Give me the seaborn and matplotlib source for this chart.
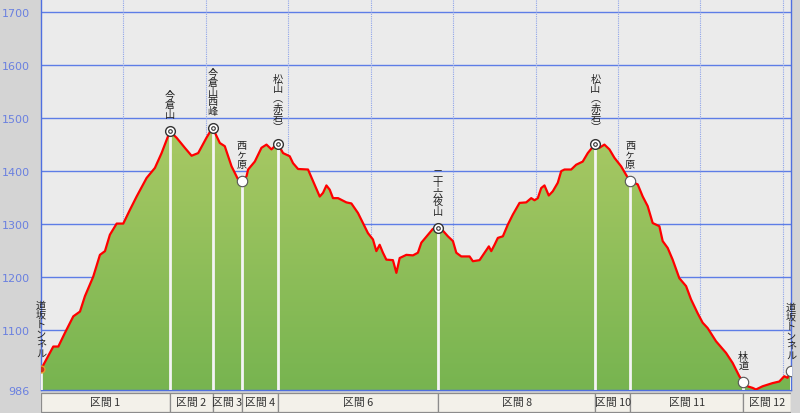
import numpy as np
import matplotlib
matplotlib.use("Agg")
import matplotlib.pyplot as plt
import seaborn as sns
from matplotlib.patches import Rectangle
from matplotlib.colors import LinearSegmentedColormap

# ---- data (distance in km, elevation in m) ----
dist = [0.000, 0.149, 0.210, 0.291, 0.392, 0.473, 0.533, 0.634, 0.715, 0.776,
        0.836, 0.918, 0.998, 1.079, 1.160, 1.281, 1.382, 1.463, 1.564, 1.645,
        1.745, 1.827, 1.907, 2.008, 2.081, 2.170, 2.230, 2.312, 2.392, 2.433,
        2.493, 2.513, 2.594, 2.675, 2.736, 2.796, 2.836, 2.876, 2.937, 3.018,
        3.058, 3.119, 3.240, 3.301, 3.382, 3.422, 3.463, 3.503, 3.543, 3.604,
        3.705, 3.766, 3.846, 3.907, 3.967, 4.028, 4.069, 4.109, 4.149, 4.190,
        4.270, 4.312, 4.352, 4.433, 4.513, 4.573, 4.615, 4.695, 4.755, 4.816,
        4.857, 4.937, 4.998, 5.039, 5.099, 5.200, 5.240, 5.321, 5.382, 5.434,
        5.463, 5.503, 5.543, 5.604, 5.664, 5.725, 5.806, 5.887, 5.948, 5.988,
        6.028, 6.069, 6.109, 6.161, 6.210, 6.270, 6.312, 6.352, 6.433, 6.493,
        6.573, 6.634, 6.727, 6.776, 6.836, 6.897, 6.958, 7.039, 7.099, 7.148,
        7.240, 7.301, 7.361, 7.422, 7.503, 7.543, 7.604, 7.664, 7.745, 7.827,
        7.887, 7.967, 8.028, 8.088, 8.190, 8.312, 8.392, 8.473, 8.521, 8.573,
        8.634, 8.675, 8.755, 8.876, 8.958, 9.018, 9.058, 9.100]
elev = [1025, 1068, 1068, 1094, 1125, 1134, 1163, 1200, 1241, 1248,
        1279, 1300, 1300, 1326, 1351, 1386, 1405, 1433, 1474, 1462,
        1443, 1428, 1433, 1462, 1481, 1452, 1446, 1408, 1383, 1380,
        1389, 1402, 1417, 1443, 1449, 1440, 1446, 1450, 1433, 1427,
        1414, 1403, 1402, 1380, 1351, 1358, 1372, 1364, 1348, 1348,
        1340, 1338, 1320, 1301, 1282, 1270, 1248, 1260, 1245, 1232,
        1231, 1207, 1235, 1241, 1240, 1245, 1264, 1279, 1290, 1292,
        1290, 1276, 1267, 1245, 1238, 1238, 1229, 1231, 1245, 1257,
        1248, 1260, 1273, 1276, 1298, 1317, 1339, 1340, 1348, 1344,
        1348, 1367, 1372, 1353, 1361, 1377, 1399, 1402, 1402, 1411,
        1417, 1433, 1451, 1443, 1449, 1440, 1424, 1408, 1392, 1380,
        1374, 1351, 1333, 1301, 1295, 1267, 1254, 1232, 1197, 1182,
        1157, 1131, 1113, 1103, 1078, 1056, 1037, 1012, 1001, 993,
        990, 987, 993, 999, 1002, 1012, 1009, 1021]

wp_names = ["道坂トンネル", "今倉山", "今倉山西峰", "西ヶ原", "松山︵赤岩︶",
            "二十六夜山", "松山︵赤岩︶", "西ヶ原", "林道", "道坂トンネル"]
wp_dist = [0.000, 1.564, 2.081, 2.433, 2.876, 4.816, 6.727, 7.148, 8.521, 9.100]
wp_elev = [1025, 1475, 1481, 1380, 1451, 1292, 1451, 1380, 1001, 1021]
wp_kind = ["start", "summit", "summit", "pass", "summit",
           "summit", "summit", "pass", "pass", "pass"]

sec_labels = ["区間 1", "区間 2", "区間 3", "区間 4", "区間 6",
              "区間 8", "区間 10", "区間 11", "区間 12"]

y_ticks = [986, 1100, 1200, 1300, 1400, 1500, 1600, 1700]

# ---- style ----
sns.set_style("white")
plt.rcParams["font.family"] = ["Noto Sans CJK JP", "DejaVu Sans"]

W, H = 800, 414
fig = plt.figure(figsize=(W / 100, H / 100), dpi=100, facecolor="#d4d4d4")

x0, x1 = 41, 791
ybot = 391
ax = fig.add_axes([x0 / W, (H - ybot) / H, (x1 - x0) / W, ybot / H])
ax.set_facecolor("#ebebeb")

ymin = 986
ymax = ymin + ybot / 0.53
xmax = 9.1

# grid
grid_blue = "#5d7de6"
for yv in y_ticks[1:]:
    ax.axhline(yv, color=grid_blue, lw=1.0, zorder=1)
for xv in range(1, 10):
    ax.axvline(xv, color="#8fa4ea", lw=0.8, ls=(0, (1, 1)), zorder=1)

# gradient fill under the profile
poly = ax.fill_between(dist, elev, ymin, color="none", zorder=2)
cmap = LinearSegmentedColormap.from_list("g", ["#77b450", "#a9c964"])
grad = np.linspace(0, 1, 256).reshape(-1, 1)
im = ax.imshow(grad, extent=[0, xmax, ymin, 1482], origin="lower",
               aspect="auto", cmap=cmap, zorder=2)
im.set_clip_path(poly.get_paths()[0], transform=ax.transData)

# white drop lines from waypoints
for d, e in zip(wp_dist, wp_elev):
    ax.plot([d, d], [ymin, e], color="#f4f4f4", lw=2.0, zorder=3,
            solid_capstyle="butt")

# profile line
sns.lineplot(x=dist, y=elev, ax=ax, color="#ff0000", linewidth=1.6,
             zorder=4, sort=False, estimator=None)

# markers
for name, d, e, k in zip(wp_names, wp_dist, wp_elev, wp_kind):
    if k == "summit":
        ax.plot(d, e, "o", ms=7, mfc="white", mec="#333333", mew=1.0, zorder=6)
        ax.plot(d, e, "o", ms=2.6, mfc="white", mec="#333333", mew=0.8, zorder=7)
    elif k == "pass":
        ax.plot(d, e, "o", ms=7.5, mfc="white", mec="#555555", mew=0.8, zorder=6)
    else:
        ax.plot(d, e, "o", ms=5, mfc="#d03020", mec="#e0a030", mew=1.0, zorder=6)
    ax.annotate("\n".join(name), xy=(d, e), xytext=(0, 8.5),
                textcoords="offset points", ha="center", va="bottom",
                fontsize=7.3, linespacing=0.95, color="#222222", zorder=8,
                annotation_clip=False)

ax.set_xlim(0, xmax)
ax.set_ylim(ymin, ymax)
ax.set_xticks([])
ax.set_yticks(y_ticks)
ax.set_yticklabels([str(v) for v in y_ticks], color="#6a80e0",
                   fontsize=8, family="DejaVu Sans")
ax.tick_params(axis="y", length=0, pad=8)
ax.set_xlabel("")
ax.set_ylabel("")
for s in ["left", "right", "bottom"]:
    ax.spines[s].set_color("#4f6fe0")
    ax.spines[s].set_linewidth(1.0)
ax.spines["top"].set_visible(False)

# section band
bax = fig.add_axes([x0 / W, 0, (x1 - x0) / W, 22 / H])
bax.set_xlim(0, xmax)
bax.set_ylim(0, 1)
bax.axis("off")
for i, lab in enumerate(sec_labels):
    a, b = wp_dist[i], wp_dist[i + 1]
    r = Rectangle((a, 0.04), b - a, 0.88, facecolor="#f3f1ea",
                  edgecolor="#8c8c8c", lw=0.9)
    bax.add_patch(r)
    t = bax.text((a + b) / 2, 0.48, lab, ha="center", va="center",
                 fontsize=7.8, color="#333333")
    t.set_clip_path(r)

fig.savefig("out.png", dpi=100, facecolor=fig.get_facecolor())
